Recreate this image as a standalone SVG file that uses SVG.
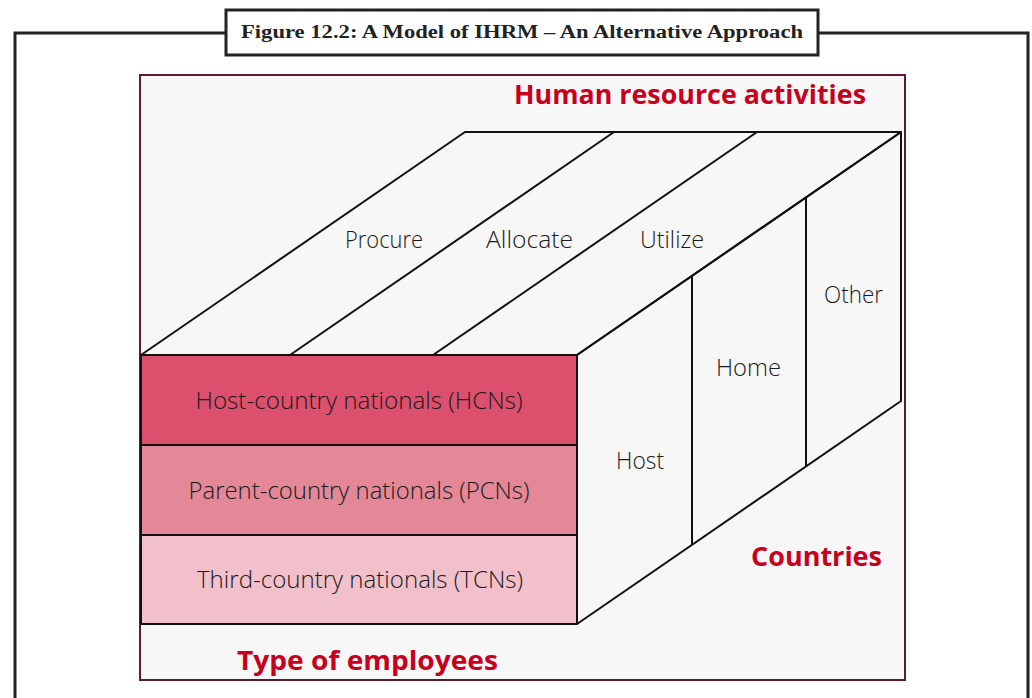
<svg xmlns="http://www.w3.org/2000/svg" width="1032" height="698" viewBox="0 0 1032 698">
<style>
.frame{fill:none;stroke:#222;stroke-width:3}
.edge{fill:none;stroke:#111;stroke-width:2;stroke-linejoin:round}
.lbl{font-family:"Open Sans","Noto Sans",sans-serif;font-weight:300;font-size:23px;fill:#1a1a1a}
.head{font-family:"Open Sans","Noto Sans",sans-serif;font-weight:700;font-size:27px;fill:#c8001e}
.title{font-family:"Liberation Serif",serif;font-weight:700;font-size:18px;fill:#222}
</style>
<rect width="1032" height="698" fill="#fff"/>
<g id="outer-frame">
<polyline class="frame" points="226,33 15,33 15,698"/>
<polyline class="frame" points="818,33 1028,33 1028,698"/>
<rect x="226" y="10" width="592" height="45" fill="#fff" stroke="#222" stroke-width="3"/>
<text class="title" x="522" y="38" text-anchor="middle" textLength="562" lengthAdjust="spacingAndGlyphs">Figure 12.2: A Model of IHRM – An Alternative Approach</text>
</g>
<g id="panel">
<rect x="140" y="75" width="765" height="605" fill="#f7f7f7" stroke="#5c1a2c" stroke-width="2"/>
</g>
<g id="top-face">
<polygon class="edge" points="141,355 465,132 901,132 577,355" fill="#f7f7f7"/>
</g>
<g id="right-face">
<polygon class="edge" points="577,355 901,132 901,401 577,624" fill="#f7f7f7"/>
</g>
<g id="connectors">
<line class="edge" x1="290" y1="355" x2="614" y2="132"/>
<line class="edge" x1="433" y1="355" x2="757" y2="132"/>
<line class="edge" x1="692" y1="276" x2="692" y2="545"/>
<line class="edge" x1="806" y1="198" x2="806" y2="466"/>
</g>
<g id="hcn">
<rect x="141" y="355" width="436" height="90" fill="#dc506e" stroke="#111" stroke-width="2"/>
<text class="lbl" x="359" y="409" text-anchor="middle" textLength="327" lengthAdjust="spacingAndGlyphs">Host-country nationals (HCNs)</text>
</g>
<g id="pcn">
<rect x="141" y="445" width="436" height="90" fill="#e48898" stroke="#111" stroke-width="2"/>
<text class="lbl" x="359" y="499" text-anchor="middle" textLength="341" lengthAdjust="spacingAndGlyphs">Parent-country nationals (PCNs)</text>
</g>
<g id="tcn">
<rect x="141" y="535" width="436" height="89" fill="#f2c0cb" stroke="#111" stroke-width="2"/>
<text class="lbl" x="360" y="588" text-anchor="middle" textLength="326" lengthAdjust="spacingAndGlyphs">Third-country nationals (TCNs)</text>
</g>
<g id="activity-labels">
<text class="lbl" x="345" y="248" textLength="78" lengthAdjust="spacingAndGlyphs">Procure</text>
<text class="lbl" x="486" y="248" textLength="87" lengthAdjust="spacingAndGlyphs">Allocate</text>
<text class="lbl" x="640" y="248" textLength="64" lengthAdjust="spacingAndGlyphs">Utilize</text>
</g>
<g id="country-labels">
<text class="lbl" x="616" y="469" textLength="48" lengthAdjust="spacingAndGlyphs">Host</text>
<text class="lbl" x="716" y="376" textLength="65" lengthAdjust="spacingAndGlyphs">Home</text>
<text class="lbl" x="824" y="303" textLength="59" lengthAdjust="spacingAndGlyphs">Other</text>
</g>
<g id="headings">
<text class="head" x="514" y="104" textLength="352" lengthAdjust="spacingAndGlyphs">Human resource activities</text>
<text class="head" x="751" y="566" textLength="131" lengthAdjust="spacingAndGlyphs">Countries</text>
<text class="head" x="237" y="670" textLength="261" lengthAdjust="spacingAndGlyphs">Type of employees</text>
</g>
</svg>
